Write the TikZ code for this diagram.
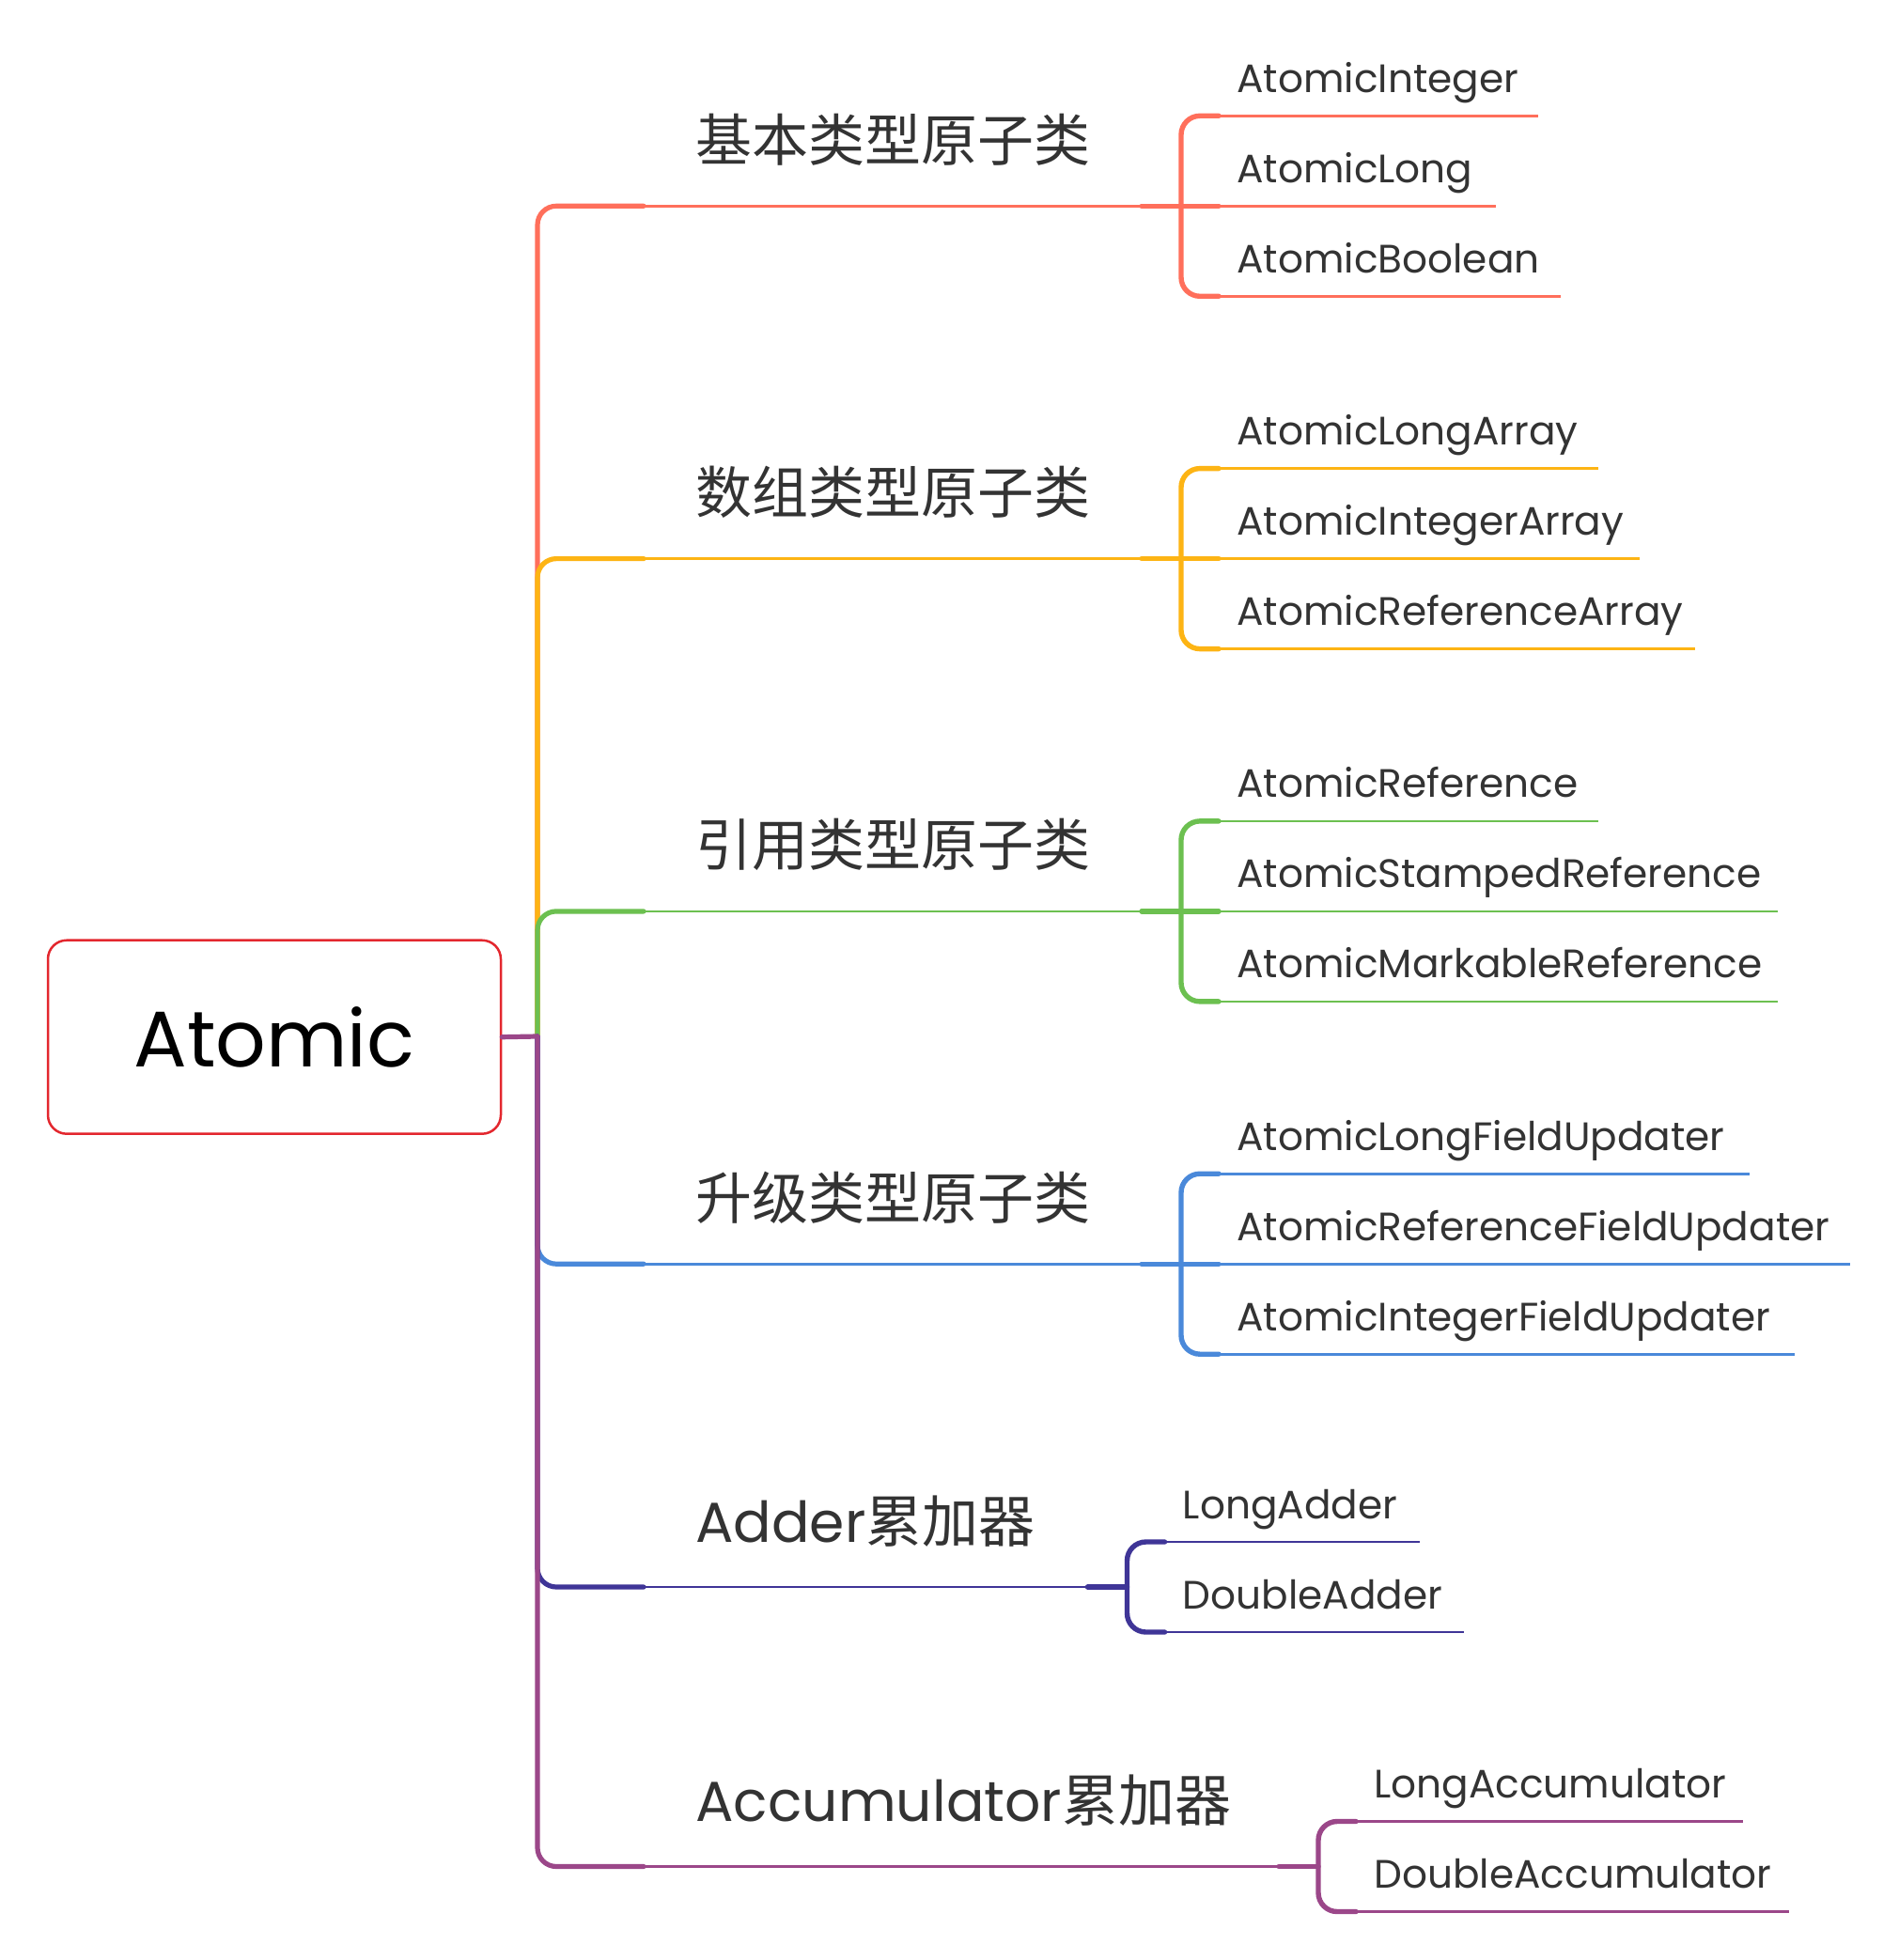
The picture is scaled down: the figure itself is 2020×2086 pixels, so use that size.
\documentclass[tikz,border=0pt]{standalone}
\usepackage{fontspec}
\setmainfont{Poppins}
\newfontfamily\cjk{Noto Sans CJK SC}
\definecolor{cA}{HTML}{FF6F5B}
\definecolor{cB}{HTML}{FDB414}
\definecolor{cC}{HTML}{6CC050}
\definecolor{cD}{HTML}{4A89DA}
\definecolor{cE}{HTML}{3F3597}
\definecolor{cF}{HTML}{9B4789}
\definecolor{rootred}{HTML}{E3272E}
\definecolor{txt}{HTML}{333333}
\newcommand\mmbranch[7]{%
  \coordinate (#1c) at (685,#3);
  \coordinate (#1s) at (#4-42,#3);
  \coordinate (#1v) at (#4,#3);
  \coordinate (#1top) at (#4+40,#5);
  \coordinate (#1bot) at (#4+40,#6);
  \node[branchtext] (#1) at (740,#3-48) {#7};
  \draw[#2, trunk] (J) |- (#1c);
  \draw[#2, thin line] (#1c) -- (#1s);
  \draw[#2, thick line] (#1s) -- (#1v);
  \draw[#2, thick line, rounded corners=10pt] (#1top) -| (#1v) |- (#1bot);
}
\newcommand\mmchild[6]{%
  \coordinate (#1a) at (#3+40,#4);
  \coordinate (#1e) at (#5,#4);
  \node[childtext] (#1) at (#3+59,#4-25) {#6};
  \draw[#2, thin line] (#1a) -- (#1e);
}
\newcommand\mmmid[3]{%
  \coordinate (#1m) at (#3+40,0 |- #1v);
  \draw[#2, thick line] (#1v) -- (#1m);
}
\begin{document}
\begin{tikzpicture}[x=0.5pt,y=-0.5pt,
  thick line/.style={line width=2.7pt, line cap=round},
  thin line/.style={line width=1.35pt},
  trunk/.style={line width=2.6pt, rounded corners=10pt, line cap=round},
  childtext/.style={font=\fontsize{21.1}{25}\selectfont, text=txt, inner sep=0pt, anchor=base west},
  branchtext/.style={font=\fontsize{30}{36}\selectfont, text=txt, inner sep=0pt, anchor=base west},
  rootbox/.style={draw=rootred, line width=1.25pt, rounded corners=10pt, minimum width=241pt, minimum height=103pt, font=\fontsize{42}{50}\selectfont, inner sep=0pt, text=black}]
\useasboundingbox (0,0) rectangle (2020,2086);
\fill[white] (0,0) rectangle (2020,2086);
\node[rootbox] (root) at (292,1103.7) {Atomic};
\coordinate (J) at (572,1103);

% group 1
\mmbranch{g1}{cA}{219.3}{1257}{123.3}{315.3}{\cjk 基本类型原子类}
\mmmid{g1}{cA}{1257}
\mmchild{k11}{cA}{1257}{123.3}{1636.7}{AtomicInteger}
\mmchild{k12}{cA}{1257}{219.3}{1591.7}{AtomicLong}
\mmchild{k13}{cA}{1257}{315.3}{1661}{AtomicBoolean}
% group 2
\mmbranch{g2}{cB}{594.6}{1257}{498.6}{690.6}{\cjk 数组类型原子类}
\mmmid{g2}{cB}{1257}
\mmchild{k21}{cB}{1257}{498.6}{1700.6}{AtomicLongArray}
\mmchild{k22}{cB}{1257}{594.6}{1744.5}{AtomicIntegerArray}
\mmchild{k23}{cB}{1257}{690.6}{1804.4}{AtomicReferenceArray}
% group 3
\mmbranch{g3}{cC}{969.9}{1257}{873.9}{1065.9}{\cjk 引用类型原子类}
\mmmid{g3}{cC}{1257}
\mmchild{k31}{cC}{1257}{873.9}{1700.6}{AtomicReference}
\mmchild{k32}{cC}{1257}{969.9}{1892.3}{AtomicStampedReference}
\mmchild{k33}{cC}{1257}{1065.9}{1892.3}{AtomicMarkableReference}
% group 4
\mmbranch{g4}{cD}{1345.2}{1257}{1249.2}{1441.2}{\cjk 升级类型原子类}
\mmmid{g4}{cD}{1257}
\mmchild{k41}{cD}{1257}{1249.2}{1861.7}{AtomicLongFieldUpdater}
\mmchild{k42}{cD}{1257}{1345.2}{1969.4}{AtomicReferenceFieldUpdater}
\mmchild{k43}{cD}{1257}{1441.2}{1909.6}{AtomicIntegerFieldUpdater}
% group 5
\mmbranch{g5}{cE}{1689}{1199.5}{1641}{1737}{Adder{\cjk 累加器}}
\mmchild{k51}{cE}{1199.5}{1641}{1511}{LongAdder}
\mmchild{k52}{cE}{1199.5}{1737}{1558}{DoubleAdder}
% group 6
\mmbranch{g6}{cF}{1986.5}{1403}{1938.5}{2034.5}{Accumulator{\cjk 累加器}}
\mmchild{k61}{cF}{1403}{1938.5}{1855}{LongAccumulator}
\mmchild{k62}{cF}{1403}{2034.5}{1903.6}{DoubleAccumulator}

\draw[cF, line width=2.6pt, line cap=round] (root.east) -- (J);
\end{tikzpicture}
\end{document}
